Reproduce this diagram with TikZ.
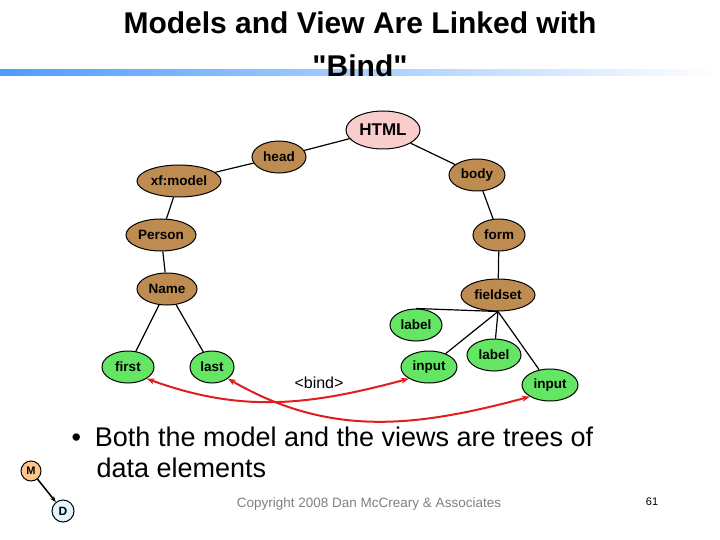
\documentclass[tikz,border=0pt]{standalone}
\usepackage{fontspec}
\setmainfont{Liberation Sans}[Ligatures=TeXOff]
\usetikzlibrary{shapes.geometric,arrows.meta}
\definecolor{brownn}{RGB}{190,140,80}
\definecolor{greenn}{RGB}{100,230,100}
\definecolor{pinkk}{RGB}{250,205,205}
\definecolor{redd}{RGB}{225,30,30}
\tikzset{
 el/.style={ellipse,draw,line width=1pt,inner sep=0pt,font=\fontsize{13.5}{15}\selectfont\bfseries},
 br/.style={el,fill=brownn},
 gr/.style={el,fill=greenn},
 edge/.style={line width=1.2pt},
 bindarr/.style={redd,line width=2pt,{Stealth[length=8pt]}-{Stealth[length=8pt]}}
}
\begin{document}
\begin{tikzpicture}[x=1pt,y=-1pt]
\useasboundingbox (0,0) rectangle (720,540);
\fill[white] (0,0) rectangle (720,540);
\shade[left color=blue!55!cyan!70,right color=white] (0,70) rectangle (720,76);
\node[font=\fontsize{30}{43}\selectfont\bfseries,align=center] (title) at (360,44) {Models and View Are Linked with\\"Bind"};
\node[el,fill=pinkk,minimum width=74pt,minimum height=38pt,font=\fontsize{17}{18}\selectfont\bfseries] (html) at (383,130) {HTML};
\node[br,minimum width=54pt,minimum height=32pt] (head) at (279,157) {head};
\node[br,minimum width=84pt,minimum height=32pt] (xf) at (179,181) {xf:model};
\node[br,minimum width=56pt,minimum height=32pt] (body) at (477,175) {body};
\node[br,minimum width=70pt,minimum height=32pt] (person) at (161,235) {Person};
\node[br,minimum width=52pt,minimum height=32pt] (form) at (499,235) {form};
\node[br,minimum width=60pt,minimum height=32pt] (name) at (167,289) {Name};
\node[br,minimum width=74pt,minimum height=32pt] (fieldset) at (498,295) {fieldset};
\node[gr,minimum width=52pt,minimum height=32pt] (label1) at (416,325) {label};
\node[gr,minimum width=52pt,minimum height=32pt] (first) at (128,367) {first};
\node[gr,minimum width=44pt,minimum height=32pt] (last) at (212,367) {last};
\node[gr,minimum width=56pt,minimum height=32pt] (input1) at (429,367) {input};
\node[gr,minimum width=54pt,minimum height=32pt] (label2) at (494,355) {label};
\node[gr,minimum width=56pt,minimum height=32pt] (input2) at (550,385) {input};
\draw[edge] (html) -- (head);
\draw[edge] (html) -- (body);
\draw[edge] (head) -- (xf);
\draw[edge] (xf) -- (person);
\draw[edge] (person) -- (name);
\draw[edge] (name) -- (first);
\draw[edge] (name) -- (last);
\draw[edge] (body) -- (form);
\draw[edge] (form) -- (fieldset);
\draw[edge] (fieldset.south) -- (label1.north);
\draw[edge] (fieldset.south) -- (input1);
\draw[edge] (fieldset.south) -- (label2);
\draw[edge] (fieldset.south) -- (input2);
\node[font=\fontsize{16}{18}\selectfont] (bind) at (319,383) {<bind>};
\draw[bindarr] (first.south east) to[out=-20,in=195] (input1.south west);
\draw[bindarr] (last.south east) to[out=-30,in=195] (input2.south west);
\node[font=\fontsize{27}{31}\selectfont,align=left,anchor=north west] (bullet) at (68,423) {\textbullet\hspace{14pt}Both the model and the views are trees of\\\hspace{25pt}data elements};
\node[circle,draw,line width=1pt,fill=orange!45,minimum size=20pt,inner sep=0pt,font=\fontsize{11}{12}\selectfont\bfseries] (m) at (31,471) {M};
\node[circle,draw,line width=1pt,fill=cyan!12,minimum size=22pt,inner sep=0pt,font=\fontsize{12}{12}\selectfont\bfseries] (d) at (63,511) {D};
\draw[line width=1.5pt,-{Stealth[length=6pt]}] (m) -- (d);
\node[font=\fontsize{13.5}{14}\selectfont,text=gray] (copy) at (369,504) {Copyright 2008 Dan McCreary \& Associates};
\node[font=\fontsize{11}{12}\selectfont] (pg) at (652,502) {61};
\end{tikzpicture}
\end{document}
